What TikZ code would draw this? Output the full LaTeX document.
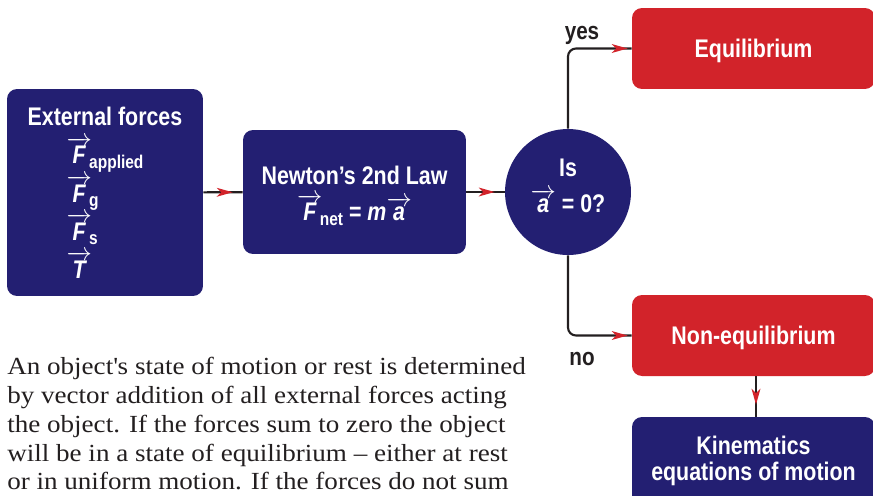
\documentclass[tikz,border=0pt]{standalone}
\usepackage{amsmath}
\usepackage{fontspec}
\setmainfont{Liberation Serif}
\newfontfamily\bodyfont[FakeStretch=1.1]{Liberation Serif}
\newfontfamily\condfont[FakeStretch=0.84]{Liberation Sans}
\usetikzlibrary{arrows.meta,decorations.markings}
\definecolor{navy}{RGB}{35,31,114}
\definecolor{ared}{RGB}{210,35,42}
\definecolor{ink}{RGB}{35,31,32}
\newcommand{\vf}[2]{$\overrightarrow{\text{\itshape #1}}$\kern-1.5pt\raisebox{-0.35ex}{\fontsize{10.5}{11}\selectfont #2}}
\tikzset{
  redhead/.tip={Stealth[length=9pt,width=5pt,inset=2.5pt,color=ared]},
  box/.style={fill=navy,rounded corners=0.2cm,text=white,align=center,
    inner sep=2pt,font=\condfont\bfseries\fontsize{14.5}{21}\selectfont},
  redbox/.style={box,fill=ared,text depth=0pt},
  decide/.style={circle,fill=navy,text=white,align=center,minimum size=2.52cm,
    inner sep=0pt,font=\condfont\bfseries\fontsize{14.5}{20.4}\selectfont},
  flow/.style={draw=ink,line width=1.2pt},
  redtip/.style={postaction={decorate},decoration={markings,
    mark=at position #1 with {\arrow{redhead}}}},
  anslbl/.style={text=ink,font=\condfont\bfseries\fontsize{14}{16}\selectfont},
  bodytext/.style={align=left,inner sep=0pt,text=ink,
    font=\bodyfont\fontsize{14}{16.4}\selectfont},
}
\begin{document}
\begin{tikzpicture}[x=0.02cm,y=-0.02cm]
  \useasboundingbox (0,0) rectangle (873,495);
  \clip (0,0) rectangle (873,495);
  % flow chart
  \node[box,minimum width=3.92cm,minimum height=4.14cm,
    font=\condfont\bfseries\fontsize{14.5}{21.5}\selectfont] (ext) at (105,192.5)
    {\rule{0pt}{17pt}External forces\\[0.5pt]
     \begin{tabular}[t]{@{}l@{}}\vf{F}{applied}\\ \vf{F}{g}\\ \vf{F}{s}\\ \vf{T}{}\end{tabular}};
  \node[box,minimum width=4.46cm,minimum height=2.48cm,
    font=\condfont\bfseries\fontsize{14.5}{20.4}\selectfont] (newt) at (354.5,192)
    {\rule{0pt}{15pt}Newton’s 2nd Law\\ \vf{F}{net} = {\itshape m}$\overrightarrow{\text{\itshape a}}$};
  \node[decide] (isa) at (568,192)
    {Is\\ $\overrightarrow{\text{\itshape a}}$ = 0?\rule[-7pt]{0pt}{0pt}};
  \node[redbox,minimum width=4.86cm,minimum height=1.62cm] (equil) at (753.5,48.5) {Equilibrium};
  \node[redbox,minimum width=4.86cm,minimum height=1.62cm] (noneq) at (753.5,335.5) {Non-equilibrium};
  \node[box,minimum width=4.86cm,minimum height=1.76cm,font=\condfont\bfseries\fontsize{14.5}{15}\selectfont]
    (kin) at (753.5,461) {Kinematics\\ equations of motion};
  \draw[flow,redtip=-0.2cm] (ext) -- (newt);
  \draw[flow,redtip=-0.2cm] (newt) -- (isa);
  \draw[flow,rounded corners=0.16cm,redtip=-0.08cm] (isa.north) |- (equil.west);
  \draw[flow,rounded corners=0.16cm,redtip=-0.08cm] (isa.south) |- (noneq.west);
  \draw[flow,redtip=-0.24cm] (noneq.south -| 756,0) -- (kin.north -| 756,0);
  \node[anslbl] (yes) at (582,35) {yes};
  \node[anslbl] (no) at (582,359) {no};
  % description
  \node[bodytext,anchor=north west] (desc) at (7,357)
    {An object\textquotesingle s state of motion or rest is determined\\
     by vector addition of all external forces acting\\
     the object. If the forces sum to zero the object\\
     will be in a state of equilibrium – either at rest\\
     or in uniform motion. If the forces do not sum};
\end{tikzpicture}
\end{document}
